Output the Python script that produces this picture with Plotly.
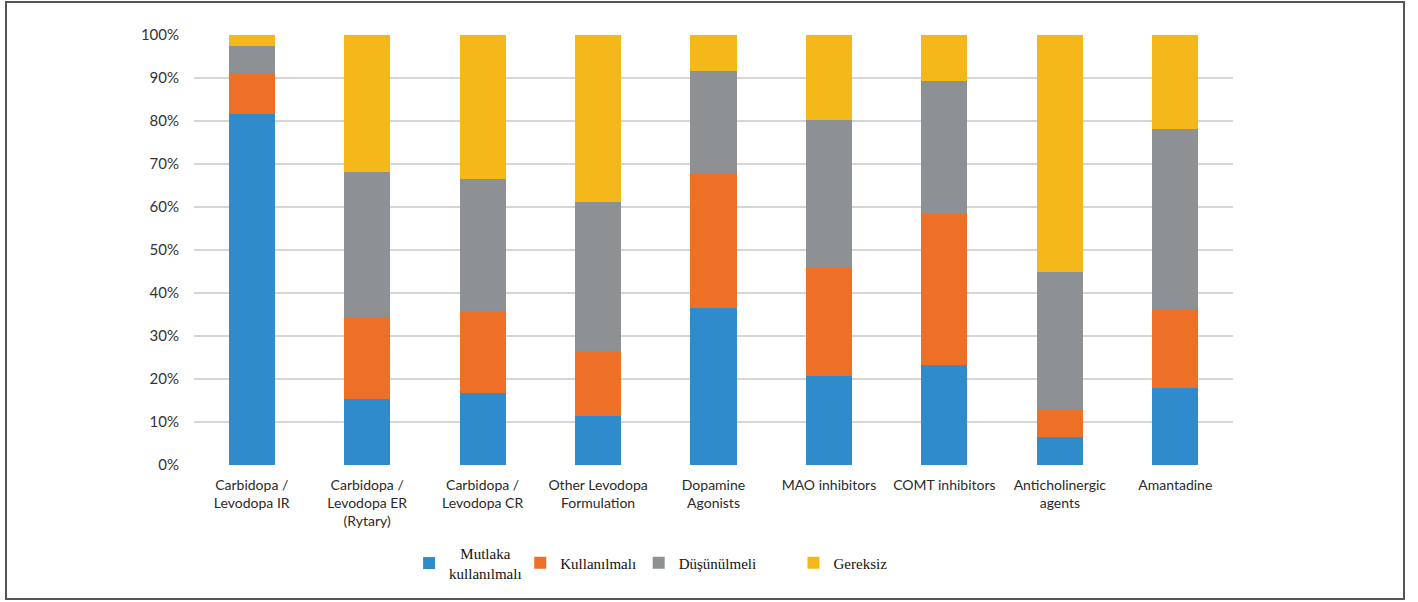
import plotly.graph_objects as go

# Levodopa and adjunct therapy classes
categories = [
    "Carbidopa /<br>Levodopa IR",
    "Carbidopa /<br>Levodopa ER<br>(Rytary)",
    "Carbidopa /<br>Levodopa CR",
    "Other Levodopa<br>Formulation",
    "Dopamine<br>Agonists",
    "MAO inhibitors",
    "COMT inhibitors",
    "Anticholinergic<br>agents",
    "Amantadine",
]

# Share of responses (%) per rating, stacked to 100%
mutlaka = [81.7, 15.4, 16.7, 11.5, 36.6, 20.8, 23.3, 6.4, 17.9]
kullanilmali = [9.5, 19.0, 19.2, 15.0, 31.3, 25.0, 35.0, 6.6, 18.4]
dusunulmeli = [6.3, 33.8, 30.6, 34.7, 23.8, 34.4, 31.0, 32.0, 41.9]
gereksiz = [2.5, 31.8, 33.5, 38.8, 8.3, 19.8, 10.7, 55.0, 21.8]

series_names = ["\u00a0\u00a0\u00a0Mutlaka<br>kullanılmalı", "Kullanılmalı", "Düşünülmeli", "Gereksiz"]
series_values = [mutlaka, kullanilmali, dusunulmeli, gereksiz]
colors = ["#308BCB", "#EE7027", "#8E9193", "#F5B81A"]
legend_ids = ["legend", "legend2", "legend3", "legend4"]
legend_x = [0.207, 0.314, 0.428, 0.577]

W, H = 1418, 602
L, R, T, B = 194, 185, 35, 137
pw, ph = W - L - R, H - T - B

fig = go.Figure()
for name, vals, col, lg in zip(series_names, series_values, colors, legend_ids):
    fig.add_trace(go.Bar(
        x=categories, y=vals, name=name, marker_color=col,
        marker_line_width=0, legend=lg,
    ))

legend_common = dict(
    orientation="h", yanchor="middle", xanchor="left", y=-0.228,
    font=dict(family="Liberation Serif", size=15, color="#111111"),
    bgcolor="rgba(0,0,0,0)", itemwidth=30, valign="middle",
)

layout_legends = {}
for lg, lx in zip(legend_ids, legend_x):
    layout_legends[lg] = dict(legend_common, x=lx)

# Outer frame around the figure
def px_to_paper_x(px):
    return (px - L) / pw

def px_to_paper_y(py):
    return (H - B - py) / ph

fig.update_layout(
    width=W, height=H,
    margin=dict(l=L, r=R, t=T, b=B, pad=0),
    paper_bgcolor="white", plot_bgcolor="white",
    barmode="stack", bargap=0.6,
    showlegend=True,
    font=dict(family="Lato", size=14, color="#404040"),
    xaxis=dict(
        showgrid=False, showline=False, zeroline=False,
        tickfont=dict(family="Lato", size=14, color="#2a2a2a"),
        ticks="", ticklabelstandoff=10,
    ),
    yaxis=dict(
        range=[0, 100], tickvals=list(range(0, 101, 10)),
        ticktext=[f"{v}%" for v in range(0, 101, 10)],
        showgrid=True, gridcolor="#D5D5D5", gridwidth=1.5,
        zeroline=False, showline=False, ticks="",
        ticklabelstandoff=14,
        tickfont=dict(family="Lato", size=15, color="#333333"),
    ),
    shapes=[
        dict(type="rect", xref="paper", yref="paper",
             x0=px_to_paper_x(6), x1=px_to_paper_x(1404),
             y0=px_to_paper_y(599), y1=px_to_paper_y(2),
             line=dict(color="#555555", width=2), fillcolor="rgba(0,0,0,0)",
             layer="below"),
    ],
    **layout_legends,
)

fig.write_html("out.html")
